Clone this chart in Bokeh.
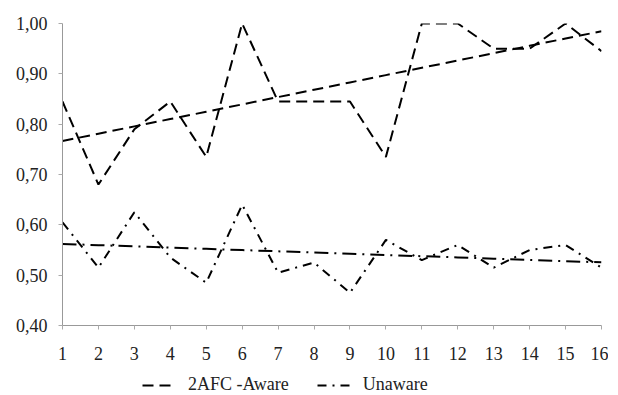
import numpy as np
from bokeh.plotting import figure
from bokeh.layouts import column
from bokeh.models import Range1d, Legend, LegendItem, FixedTicker, CustomJSTickFormatter
from bokeh.embed import file_html
from bokeh.resources import INLINE

x_vals = list(range(1, 17))
aware = [0.845, 0.68, 0.79, 0.845, 0.735, 1.00, 0.845, 0.845, 0.845, 0.735, 1.00, 1.00, 0.95, 0.95, 1.00, 0.945]
unaware = [0.605, 0.515, 0.625, 0.535, 0.485, 0.64, 0.505, 0.525, 0.465, 0.57, 0.53, 0.56, 0.515, 0.55, 0.56, 0.515]
y_ticks = [0.4, 0.5, 0.6, 0.7, 0.8, 0.9, 1.0]
series_names = ["2AFC -Aware", "Unaware"]

xa = np.array(x_vals, dtype=float)
ka, ba = np.polyfit(xa, aware, 1)
ku, bu = np.polyfit(xa, unaware, 1)
trend_a = list(ka * xa + ba)
trend_u = list(ku * xa + bu)

FONT = "Liberation Serif"
DASH_A = "11 6"
DASH_U = "9 6 2 6"
DASH_UT = "14 6 2 6"

p = figure(width=608, height=362, output_backend="svg", toolbar_location=None,
           x_range=Range1d(1, 16), y_range=Range1d(0.4, 1.0),
           min_border_left=62, min_border_right=7, min_border_top=23, min_border_bottom=31)
p.outline_line_color = None
p.xgrid.visible = False
p.ygrid.visible = False

p.line(x_vals, aware, line_color="black", line_width=2, line_dash=DASH_A)
p.line(x_vals, trend_a, line_color="black", line_width=2, line_dash=DASH_A)
p.line(x_vals, unaware, line_color="black", line_width=2, line_dash=DASH_U)
p.line(x_vals, trend_u, line_color="black", line_width=2, line_dash=DASH_UT)

p.yaxis.ticker = FixedTicker(ticks=y_ticks)
p.yaxis.formatter = CustomJSTickFormatter(code="return tick.toFixed(2).replace('.', ',');")
p.xaxis.ticker = FixedTicker(ticks=x_vals)
for ax in (p.xaxis, p.yaxis):
    ax.axis_line_color = "#999999"
    ax.major_tick_line_color = "#aaaaaa"
    ax.minor_tick_line_color = None
    ax.major_tick_in = 0
    ax.major_tick_out = 4
    ax.major_label_text_font = FONT
    ax.major_label_text_font_size = "18px"
    ax.major_label_text_color = "#222222"
p.yaxis.major_label_standoff = 11
p.xaxis.major_label_standoff = 17

# legend strip
q = figure(width=608, height=33, output_backend="svg", toolbar_location=None,
           x_range=Range1d(0, 1), y_range=Range1d(0, 1),
           min_border_left=0, min_border_right=0, min_border_top=0, min_border_bottom=0)
q.axis.visible = False
q.xgrid.visible = False
q.ygrid.visible = False
q.outline_line_color = None
la = q.line([-5, -4], [-5, -5], line_color="black", line_width=2, line_dash=DASH_A)
lu = q.line([-5, -4], [-5, -5], line_color="black", line_width=2, line_dash=DASH_U)

legend = Legend(items=[LegendItem(label=series_names[0], renderers=[la]),
                       LegendItem(label=series_names[1], renderers=[lu])],
                orientation="horizontal", location=(80, 0))
legend.label_text_font = FONT
legend.label_text_font_size = "18px"
legend.label_text_color = "#222222"
legend.border_line_color = None
legend.background_fill_alpha = 0
legend.glyph_width = 34
legend.label_standoff = 12
legend.spacing = 28
legend.margin = 0
legend.padding = 2
q.add_layout(legend)

open("out.html", "w").write(file_html(column(p, q, spacing=0), INLINE))
